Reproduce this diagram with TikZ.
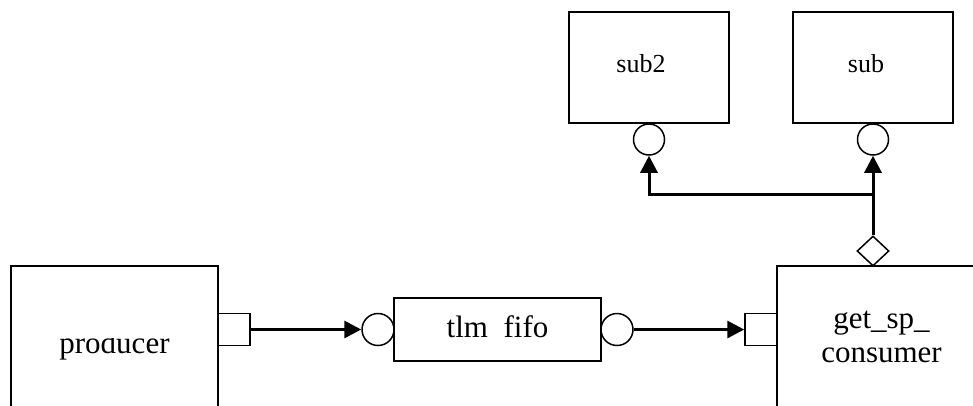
\documentclass[tikz,border=0pt]{standalone}
\usepackage{fontspec}
\setmainfont{Liberation Serif}
\usetikzlibrary{arrows.meta,shapes.geometric}

\begin{document}
\begin{tikzpicture}[x=1pt,y=-1pt,
    block/.style={draw,line width=1.5pt,inner sep=0pt},
    port/.style={draw,line width=1.5pt,minimum size=32pt,inner sep=0pt},
    sock/.style={draw,circle,line width=1.5pt,minimum size=32pt,inner sep=0pt},
    link/.style={line width=3pt,-{Triangle[length=17pt,width=17pt]}},
    bigtext/.style={font=\fontsize{31}{34}\selectfont},
    smalltext/.style={font=\fontsize{26}{30}\selectfont}]
  \useasboundingbox (0,0) rectangle (973,405);
  % lower row
  \node[block,minimum width=207pt,minimum height=160pt] (producer) at (114.5,346) {};
  \begin{scope}
    \clip (0,338.5) rectangle (400,405);
    \node[bigtext] (prodname) at (producer) {producer};
  \end{scope}
  \node[port] (pport) at (234,329.5) {};
  \node[sock] (fifoin) at (378,329.5) {};
  \node[block,bigtext,text height=21pt,text depth=6pt,minimum width=207pt,minimum height=63pt] (fifo) at (497.5,329.5) {tlm~~fifo};
  \node[sock] (fifoout) at (617,329.5) {};
  \node[port] (cport) at (761,329.5) {};
  \node[block,bigtext,align=center,minimum width=209pt,minimum height=142pt] (consumer) at (881.5,337) {get\_sp\_\\consumer};
  \node[draw,diamond,line width=1.5pt,minimum width=32pt,minimum height=30pt,inner sep=0pt] (spport) at (873,251) {};
  % upper row
  \node[block,minimum width=160pt,minimum height=111pt,
    label={[smalltext,xshift=-8pt,yshift=4pt]center:sub2}] (subtwo) at (649,67.5) {};
  \node[block,minimum width=160pt,minimum height=111pt,
    label={[smalltext,xshift=-7pt,yshift=4pt]center:sub}] (subone) at (873,67.5) {};
  \node[sock,minimum size=31pt] (subtwoin) at (649,139.5) {};
  \node[sock,minimum size=31pt] (subonein) at (873,139.5) {};
  \coordinate (split) at (873,194.5);
  % connections
  \draw[link] (pport.east) -- (fifoin.west);
  \draw[link] (fifoout.east) -- (cport.west);
  \draw[link] (spport.north) -- (subonein.south);
  \draw[link,line join=miter] (split) -| (subtwoin.south);
\end{tikzpicture}
\end{document}
